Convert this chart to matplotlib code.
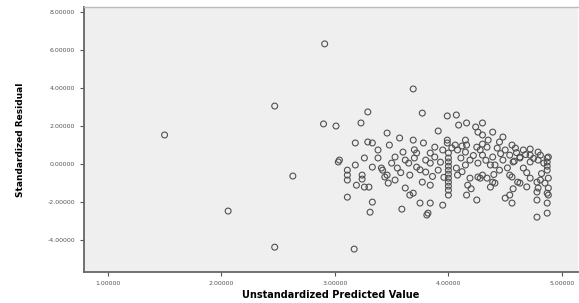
import numpy as np
import matplotlib.pyplot as plt

# predicted values (x) and standardized residuals (y)
pred = [
    1.50, 2.06, 2.47, 2.63, 2.47, 2.91, 2.90, 3.01, 3.17, 3.69,
    3.29, 3.23, 3.46, 3.18, 3.29, 3.33, 3.04, 3.26, 3.77, 3.99,
    4.07, 4.16, 4.09, 4.24, 4.26, 3.91, 3.57, 3.69, 3.78, 3.99,
    3.99, 4.15, 4.16, 4.25, 3.60, 3.72, 3.84, 3.95, 4.00, 4.08,
    4.15, 4.28, 4.30, 4.39, 4.30, 4.48, 4.35, 4.45, 4.34, 4.43,
    4.56, 4.59, 4.66, 4.72, 4.79, 4.88, 4.54, 4.63, 4.72, 4.81,
    4.30, 4.39, 3.59, 3.82, 3.75, 3.84, 3.95, 4.16, 4.25, 4.50,
    4.56, 4.78, 4.87, 3.66, 3.62, 3.77, 3.84, 3.46, 3.42, 4.26,
    4.34, 4.41, 4.54, 4.63, 4.78, 4.85, 4.78, 4.87, 4.78, 4.87,
    3.03, 3.11, 3.11, 3.11, 3.24, 3.24, 3.33, 3.41, 3.44, 3.19,
    3.26, 3.30, 3.11, 3.33, 3.31, 3.55, 3.72, 3.84, 4.07, 4.19,
    4.28, 3.69, 3.81,
    4.00, 4.00, 4.00, 4.00, 4.00, 4.00, 4.00, 4.00, 4.00, 4.00,
    4.87, 4.87, 4.87, 4.87,
    4.79, 4.72, 4.63, 4.57, 4.48, 4.41, 4.30, 4.39, 4.56, 4.61,
    4.72, 4.81, 4.88, 4.79, 4.88, 4.54, 4.37, 4.88,
    3.53, 3.62, 3.70, 3.80, 3.88, 4.11, 4.19, 4.26, 4.15, 3.91,
    3.80, 3.66, 3.53, 4.08, 4.17, 4.45, 4.66, 4.50, 3.48, 3.38,
    3.38, 3.18, 3.88, 4.06, 4.37,
    3.65, 3.75, 3.93, 4.12, 4.22, 4.33, 4.46, 4.52, 4.60, 4.69,
    4.75, 4.84, 4.82, 4.69, 4.57, 4.40, 4.20, 4.03, 3.96, 3.86,
    3.58, 3.50, 3.70, 3.47, 4.12, 4.30, 4.58, 4.68,
]
resid = [
    1.53, -2.47, 3.05, -0.63, -4.37, 6.32, 2.11, 2.00, -4.47, 3.95,
    2.74, 2.16, 1.63, 1.11, 1.16, 1.11, 0.21, 0.32, 2.68, 2.53,
    2.58, 2.16, 2.05, 1.95, 1.68, 1.74, 1.37, 1.26, 1.11, 1.26,
    1.11, 1.26, 1.00, 0.89, 0.63, 0.58, 0.58, 0.74, 0.58, 0.74,
    0.63, 0.74, 2.16, 1.68, 1.53, 1.42, 1.26, 1.16, 0.89, 0.84,
    1.00, 0.84, 0.74, 0.79, 0.63, 0.37, 0.47, 0.37, 0.47, 0.47,
    0.47, 0.37, -2.37, -2.58, -2.05, -2.05, -2.16, -1.63, -1.89, -1.79,
    -2.05, -2.79, -2.58, -1.63, -1.26, -0.95, -1.11, -0.58, -0.32, -0.68,
    -0.74, -1.00, -0.58, -1.00, -0.95, -1.00, -1.47, -1.53, -1.89, -2.05,
    0.11, -0.32, -0.58, -0.84, -0.58, -0.79, -0.16, -0.21, -0.68, -1.11,
    -1.21, -1.21, -1.74, -2.00, -2.53, -0.21, -0.16, 0.05, -0.21, -0.74,
    -0.74, -1.53, -2.68,
    0.32, 0.11, -0.11, -0.32, -0.53, -0.74, -0.95, -1.16, -1.37, -1.63,
    0.32, 0.11, -0.11, -0.32,
    0.21, 0.11, 0.32, 0.11, 0.21, -0.05, -0.58, -0.95, -0.68, -0.95,
    -0.74, -0.84, -0.74, -1.26, -1.26, -1.63, -1.21, -1.63,
    0.37, 0.21, 0.32, 0.21, 0.37, 0.32, 0.21, 0.05, -0.05, -0.32,
    -0.42, -0.58, -0.84, -0.58, -1.11, -0.32, -0.21, 0.74, 1.00, 0.74,
    0.32, -0.05, 0.89, 1.00, -0.05,
    0.05, -0.30, 0.10, -0.40, 0.45, 0.20, 0.55, -0.20, 0.60, -0.45,
    0.30, 0.05, -0.50, -1.20, -1.30, -0.55, -1.30, 0.85, -0.70, -0.65,
    -0.45, 0.05, 0.75, -1.00, 0.95, 1.05, 0.15, 0.50,
]
x_ticks = [1, 2, 3, 4, 5]
y_ticks = [-4, -2, 0, 2, 4, 6, 8]

fig = plt.figure(figsize=(5.79, 3.03), dpi=100)
ax = fig.add_axes([0.145, 0.102, 0.853, 0.875])
ax.set_facecolor('#efefef')

ax.scatter(pred, resid, s=18, facecolors='none', edgecolors='#505050',
           linewidths=0.8)

ax.set_xlim(0.79, 5.14)
ax.set_ylim(-5.68, 8.26)
ax.set_xticks(x_ticks)
ax.set_yticks(y_ticks)
ax.set_xticklabels([f'{v:.5f}' for v in x_ticks])
ax.set_yticklabels([f'{v:.5f}' for v in y_ticks])
ax.tick_params(labelsize=4.5, colors='#555555', length=3, width=0.8)

for side in ['left', 'bottom']:
    ax.spines[side].set_color('#666666')
    ax.spines[side].set_linewidth(1.3)
ax.spines['top'].set_color('#bbbbbb')
ax.spines['top'].set_linewidth(1.0)
ax.spines['right'].set_visible(False)

ax.set_xlabel('Unstandardized Predicted Value', fontsize=7, fontweight='bold',
              labelpad=3)
ax.set_ylabel('Standardized Residual', fontsize=6.5, fontweight='bold',
              labelpad=16)

fig.savefig('out.png', dpi=100)
